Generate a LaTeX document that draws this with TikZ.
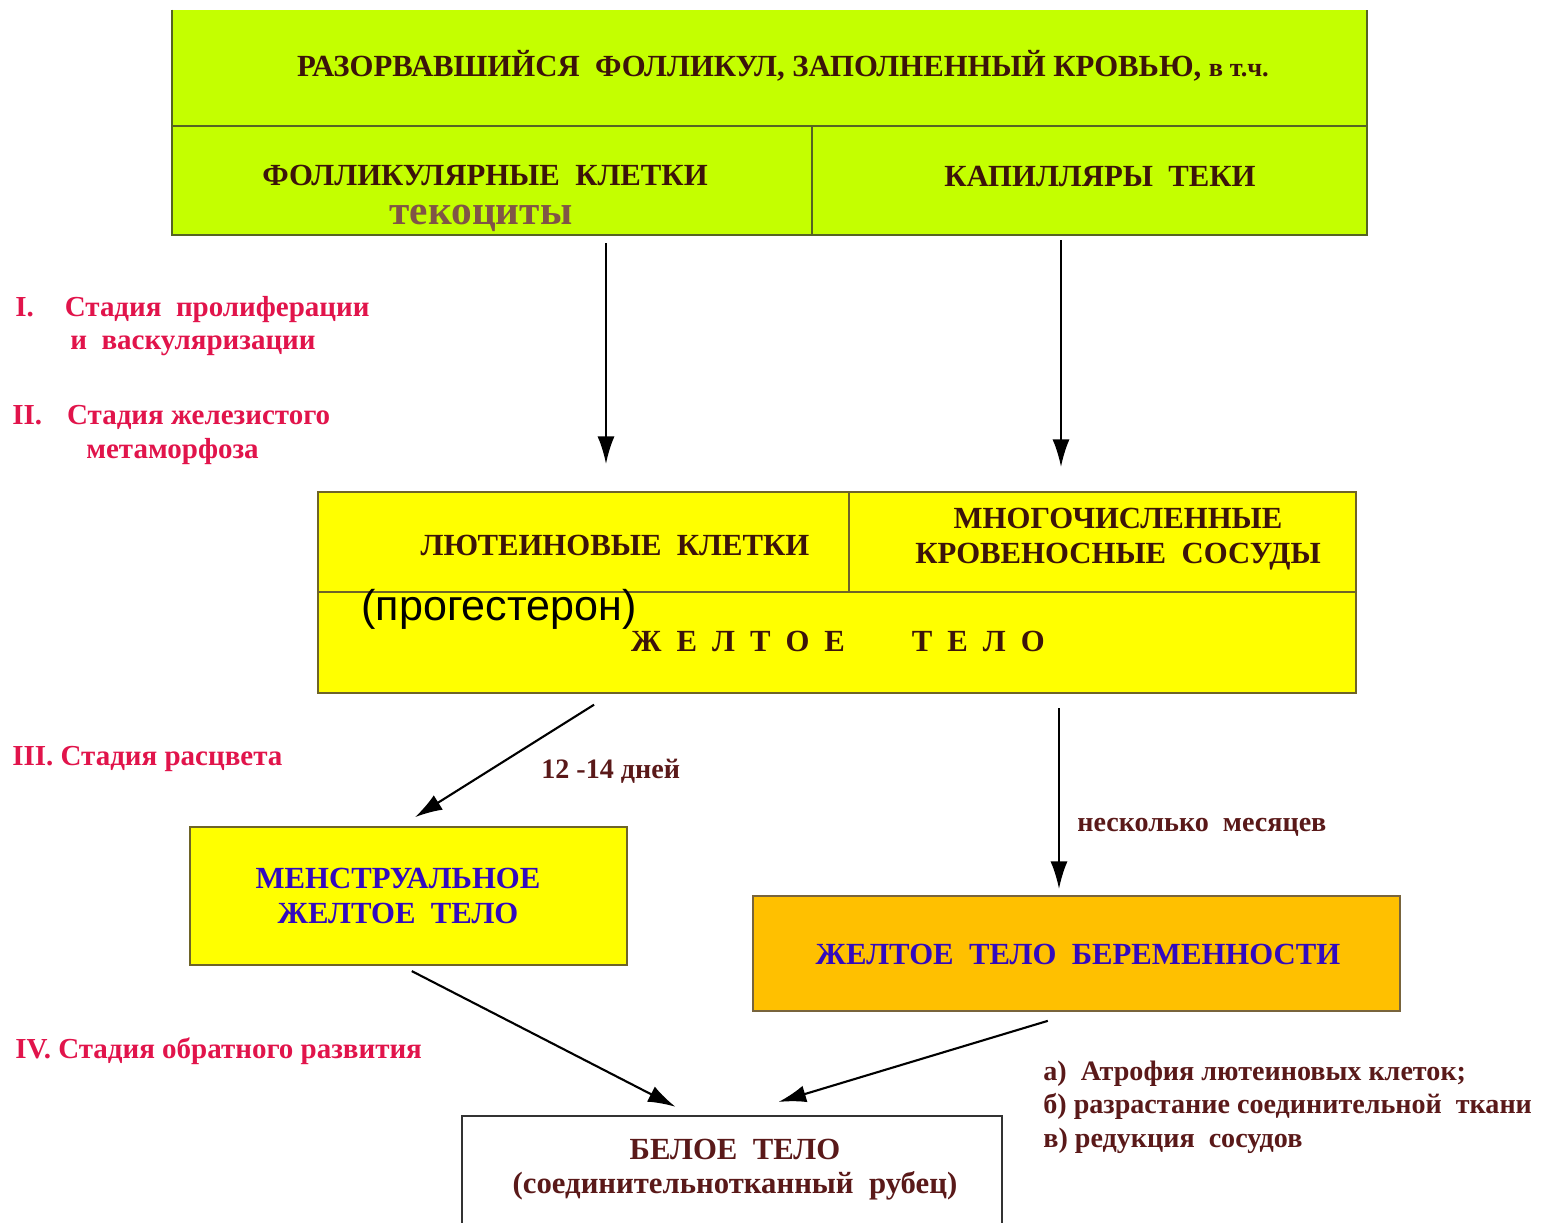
\documentclass[tikz,border=0pt]{standalone}
\usepackage{fontspec}
\setmainfont{Liberation Serif}
\newfontfamily\arialfont{Liberation Sans}
\usepackage{tikz}
\usetikzlibrary{positioning,fit,arrows.meta}

\definecolor{follgreen}{RGB}{196,255,0}
\definecolor{greenline}{RGB}{85,100,35}
\definecolor{lutyellow}{RGB}{255,255,0}
\definecolor{yellowline}{RGB}{110,100,40}
\definecolor{pregorange}{RGB}{255,192,0}
\definecolor{orangeline}{RGB}{120,100,60}
\definecolor{boxink}{RGB}{60,20,10}
\definecolor{tecaink}{RGB}{128,85,70}
\definecolor{stagered}{RGB}{225,20,75}
\definecolor{noteink}{RGB}{90,25,25}
\definecolor{blueink}{RGB}{50,10,190}

\newcommand{\lgap}{\hspace{0.3cm}}

\tikzset{
  greenbox/.style={draw=greenline, fill=follgreen, line width=1.2pt, inner sep=0pt},
  yellowbox/.style={draw=yellowline, fill=lutyellow, line width=1.2pt, inner sep=0pt},
  orangebox/.style={draw=orangeline, fill=pregorange, line width=1.2pt, inner sep=0pt},
  whitebox/.style={draw=black!80, fill=white, line width=1.4pt, inner sep=0pt},
  boxtext/.style={font=\bfseries\fontsize{17.5}{19.5}\selectfont, text=boxink, align=center, inner sep=0pt},
  bluetext/.style={boxtext, text=blueink},
  stagetext/.style={font=\bfseries\fontsize{16.5}{19}\selectfont, text=stagered, align=left, anchor=west, inner sep=0pt},
  notetext/.style={font=\bfseries\fontsize{16}{19}\selectfont, text=noteink, align=left, anchor=west, inner sep=0pt},
  arr/.style={-{Latex[length=0.55cm,width=0.34cm]}, line width=1.2pt},
}

\begin{document}
\begin{tikzpicture}[x=0.02cm,y=-0.02cm]
\useasboundingbox (0,0) rectangle (1553,1223);

% Burst follicle (no line on top)
\node[fill=follgreen, inner sep=0pt, fit={(172,10) (1367,126)}] (burst) {};
\draw[greenline, line width=1.2pt] (burst.north west) -- (burst.south west) -- (burst.south east) -- (burst.north east);
\node[greenbox, fit={(172,126) (812,235)}] (follcells) {};
\node[greenbox, fit={(812,126) (1367,235)}] (capil) {};
\node[boxtext] (burstlbl) at (783,66) {РАЗОРВАВШИЙСЯ\ \ ФОЛЛИКУЛ, ЗАПОЛНЕННЫЙ КРОВЬЮ, {\fontsize{15}{17}\selectfont в т.ч.}};
\node[boxtext] (follcellslbl) at (485,175) {ФОЛЛИКУЛЯРНЫЕ\ \ КЛЕТКИ};
\node[boxtext, text=tecaink, font=\bfseries\fontsize{23.5}{26}\selectfont, anchor=base, text height=0.48em, text depth=0.15em] (tecalbl) at (481,225) {текоциты};
\node[boxtext] (capillbl) at (1100,177) {КАПИЛЛЯРЫ\ \ ТЕКИ};

% Corpus luteum
\node[yellowbox, fit={(318,492) (849,592)}] (lutcells) {};
\node[yellowbox, fit={(849,492) (1356,592)}] (vessels) {};
\node[yellowbox, fit={(318,592) (1356,693)}] (corpus) {};
\node[boxtext] (lutcellslbl) at (615,545) {ЛЮТЕИНОВЫЕ\ \ КЛЕТКИ};
\node[boxtext] (vesselslbl) at (1118,539) {МНОГОЧИСЛЕННЫЕ\\КРОВЕНОСНЫЕ\ \ СОСУДЫ};
\node[boxtext] (corpuslbl) at (838,641) {Ж\lgap Е\lgap Л\lgap Т\lgap О\lgap Е\hspace{1.34cm}Т\lgap Е\lgap Л\lgap О};
\node[font=\arialfont\fontsize{24.5}{26}\selectfont, inner sep=0pt] (progest) at (499,609) {(прогестерон)};

% Later stages
\node[yellowbox, fit={(190,827) (627,965)}] (mens) {};
\node[bluetext] (menslbl) at (398,896) {МЕНСТРУАЛЬНОЕ\\ЖЕЛТОЕ\ \ ТЕЛО};
\node[orangebox, fit={(753,896) (1400,1011)}] (preg) {};
\node[bluetext] (preglbl) at (1078,954) {ЖЕЛТОЕ\ \ ТЕЛО\ \ БЕРЕМЕННОСТИ};
\node[whitebox, fit={(462,1116) (1002,1240)}] (albicans) {};
\node[boxtext, text=noteink] (albicanslbl) at (735,1170) {БЕЛОЕ\ \ ТЕЛО\\(соединительнотканный\ \ рубец)};

% Stage labels
\node[stagetext] (stage1) at (15,326) {I.\hspace{0.62cm}Стадия\ \ пролиферации\\\hspace{1.1cm}и\ \ васкуляризации};
\node[stagetext] (stage2) at (12,435) {II.\hspace{0.5cm}Стадия железистого\\\hspace{1.48cm}метаморфоза};
\node[stagetext] (stage3) at (12,759) {III. Стадия расцвета};
\node[stagetext] (stage4) at (15,1051) {IV. Стадия обратного развития};

% Notes
\node[notetext] (days) at (541,771) {12 -14 дней};
\node[notetext] (months) at (1077,827) {несколько\ \ месяцев};
\node[notetext] (involution) at (1043,1107) {а)\ \ Атрофия лютеиновых клеток;\\б) разрастание соединительной\ \ ткани\\в) редукция\ \ сосудов};

% Arrows
\coordinate (g1) at (606,0);
\coordinate (g2) at (1061,0);
\coordinate (g3) at (611,0);
\coordinate (g4) at (401,0);
\coordinate (g5) at (1059,0);
\coordinate (g6) at (402,0);
\coordinate (g7) at (691,0);
\coordinate (g8) at (1077,0);
\coordinate (g9) at (736,0);
\draw[arr, shorten <=0.14cm, shorten >=0.54cm] (follcells.south -| g1) -- (lutcells.north -| g1);
\draw[arr, shorten <=0.08cm, shorten >=0.48cm] (capil.south -| g2) -- (vessels.north -| g2);
\draw[arr, shorten <=0.4cm, shorten >=0.33cm] (corpus.south -| g3) -- (mens.north -| g4);
\draw[arr, shorten <=0.28cm, shorten >=0.12cm] (corpus.south -| g5) -- (preg.north -| g5);
\draw[arr, shorten <=0.22cm, shorten >=0.35cm] (mens.south -| g6) -- (albicans.north -| g7);
\draw[arr, shorten <=0.61cm, shorten >=0.89cm] (preg.south -| g8) -- (albicans.north -| g9);
\end{tikzpicture}
\end{document}
